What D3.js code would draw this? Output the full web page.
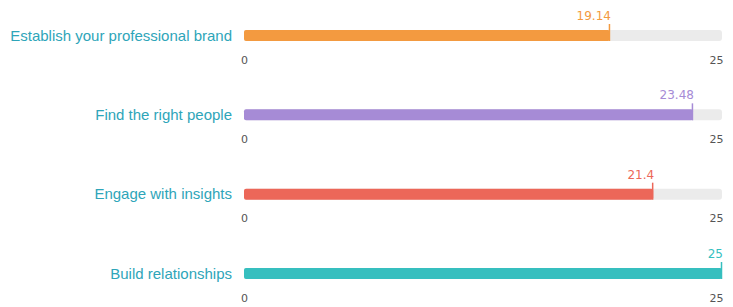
<!DOCTYPE html>
<html>
<head>
<meta charset="utf-8">
<script src="https://cdn.jsdelivr.net/npm/d3@7"></script>
<style>
  body { margin: 0; background: #fff; }
  .axis path, .axis line { display: none; }
  .axis text { font: 11px "DejaVu Sans", sans-serif; fill: #555; }
</style>
</head>
<body>
<div class="svg-container"></div>
<script>
// data
const categories = ["Establish your professional brand", "Find the right people", "Engage with insights", "Build relationships"];
const values = [19.14, 23.48, 21.4, 25];
const colors = ["#f39a40", "#a68bd6", "#ec6759", "#36bfbf"];
const tickValues = [0, 25];

const width = 733, height = 307;
const margin = {top: 30, left: 244, right: 11};

const svg = d3.select('.svg-container')
    .append('svg')
    .attr('width', width)
    .attr('height', height);

const x = d3.scaleLinear()
    .domain([0, 25])
    .range([margin.left, width - margin.right]);

const y = d3.scalePoint()
    .domain(categories)
    .range([margin.top, 268]);

const barH = 11;

const row = svg.selectAll('.row')
  .data(categories)
  .enter().append('g')
    .attr('class', 'row')
    .attr('transform', d => `translate(0, ${y(d)})`);

// background track
row.append('rect')
    .attr('x', x(0))
    .attr('width', x(25) - x(0))
    .attr('height', barH)
    .attr('rx', 3)
    .attr('fill', '#ebebeb');

// value bar
row.append('rect')
    .attr('x', x(0))
    .attr('width', (d, i) => x(values[i]) - x(0))
    .attr('height', barH)
    .attr('rx', 2)
    .attr('fill', (d, i) => colors[i]);

// marker line at end of bar
row.append('line')
    .attr('x1', (d, i) => x(values[i]) - 0.5)
    .attr('x2', (d, i) => x(values[i]) - 0.5)
    .attr('y1', -6)
    .attr('y2', barH)
    .attr('stroke', (d, i) => colors[i])
    .attr('stroke-width', 1.5);

// value label
row.append('text')
    .attr('x', (d, i) => x(values[i]) + 1)
    .attr('y', -10)
    .attr('text-anchor', 'end')
    .style('font', '12px "DejaVu Sans", sans-serif')
    .attr('fill', (d, i) => colors[i])
    .text((d, i) => values[i]);

// category label
row.append('text')
    .attr('x', 232)
    .attr('y', barH / 2)
    .attr('dy', '0.35em')
    .attr('text-anchor', 'end')
    .style('font', '15px "Liberation Sans", Arial, sans-serif')
    .attr('fill', '#2ea5b9')
    .text(d => d);

// axis per row
row.append('g')
    .attr('class', 'axis')
    .attr('transform', `translate(0, ${barH + 12})`)
    .call(d3.axisBottom(x).tickValues(tickValues).tickSize(0).tickFormat(d3.format('d')))
    .selectAll('text')
    .attr('text-anchor', d => d === 25 ? 'end' : 'middle')
    .attr('dx', d => d === 25 ? '1' : '0');
</script>
</body>
</html>
